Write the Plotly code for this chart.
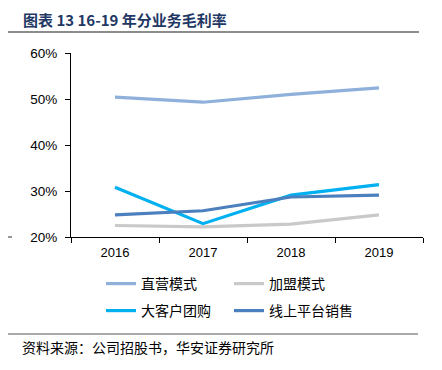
import plotly.graph_objects as go

years = ["2016", "2017", "2018", "2019"]
direct = [50.4, 49.3, 51.0, 52.4]
franchise = [22.5, 22.2, 22.8, 24.8]
corporate = [30.8, 22.9, 29.1, 31.4]
online = [24.8, 25.7, 28.7, 29.1]

series = [
    ("直营模式", direct, "#8EB0DA", "legend"),
    ("加盟模式", franchise, "#C9C9C9", "legend"),
    ("大客户团购", corporate, "#00B0F0", "legend2"),
    ("线上平台销售", online, "#4B7FBE", "legend2"),
]

# page has an 8px body margin; work in page pixel coords
OFF = 8
W, H = 442 - OFF, 370 - OFF
L, R, T, B = 71, 423, 53, 237  # plot area in page coords
PW, PH = R - L, B - T


def px(x):
    return (x - L) / PW


def py(y):
    return (B - y) / PH


fig = go.Figure()
for name, vals, color, lg in series:
    fig.add_trace(go.Scatter(x=years, y=vals, name=name, mode="lines", legend=lg,
                             line=dict(color=color, width=3.2)))

cjk = "Noto Sans CJK SC"
legend_common = dict(orientation="h", xanchor="left", yanchor="middle",
                     entrywidth=83, entrywidthmode="pixels", traceorder="normal",
                     font=dict(family=cjk, size=14, color="#000000"),
                     itemwidth=30, bgcolor="rgba(0,0,0,0)")
fig.update_layout(
    width=W, height=H,
    margin=dict(l=L - OFF, r=W - (R - OFF), t=T - OFF, b=H - (B - OFF)),
    paper_bgcolor="white", plot_bgcolor="white",
    font=dict(family="Liberation Sans, Arial", color="#000000", size=13),
    showlegend=True,
    legend=dict(x=px(101), y=py(284), **legend_common),
    legend2=dict(x=px(101), y=py(311), **legend_common),
    xaxis=dict(type="category", range=[-0.5, 3.5], showline=True, linecolor="#000000", linewidth=1,
               ticks="outside", ticklen=5, tickcolor="#000000", tickson="boundaries",
               showgrid=False, tickfont=dict(size=13), zeroline=False, ticklabelstandoff=3),
    yaxis=dict(range=[20, 60], dtick=10, ticksuffix="%", showline=True,
               linecolor="#000000", linewidth=1, ticks="outside", ticklen=5,
               tickcolor="#000000", showgrid=False, zeroline=False,
               tickfont=dict(size=13.5), ticklabelstandoff=5),
)

fig.add_annotation(text="<b>图表 13 16-19 年分业务毛利率</b>", xref="paper", yref="paper",
                   x=px(21), y=py(19), xanchor="left", yanchor="middle",
                   showarrow=False, font=dict(family=cjk, size=15, color="#1F3864"))
fig.add_annotation(text="资料来源：公司招股书，华安证券研究所", xref="paper", yref="paper",
                   x=px(20), y=py(347), xanchor="left", yanchor="middle",
                   showarrow=False, font=dict(family=cjk, size=14, color="#000000"))

# title rule, bottom rule, and small stub line on left
fig.add_shape(type="line", xref="paper", yref="paper",
              x0=px(OFF), x1=px(419), y0=py(32), y1=py(32),
              line=dict(color="#8C8C8C", width=2))
fig.add_shape(type="line", xref="paper", yref="paper",
              x0=px(OFF), x1=px(418), y0=py(334), y1=py(334),
              line=dict(color="#555555", width=1))
fig.add_shape(type="line", xref="paper", yref="paper",
              x0=px(OFF), x1=px(12), y0=0, y1=0,
              line=dict(color="#333333", width=1))

fig.write_html("out.html")
